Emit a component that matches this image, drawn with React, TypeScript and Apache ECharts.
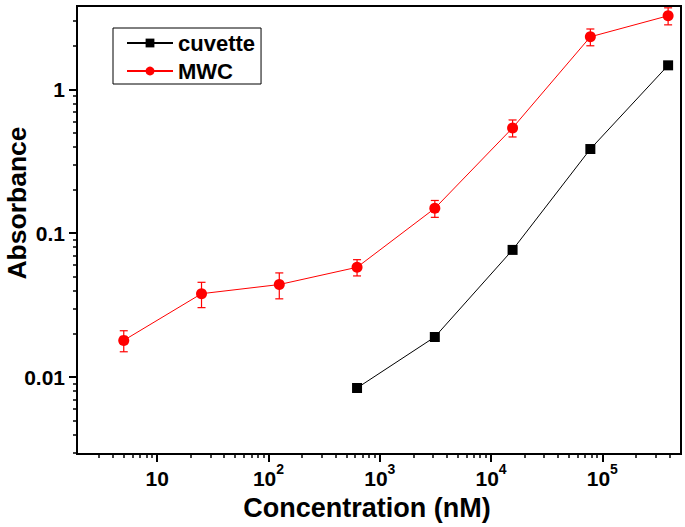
import { useEffect, useRef } from 'react';
import * as echarts from 'echarts';

const concentrations = [5, 25, 125, 625, 3125, 15625, 78125, 390625];
const mwcValues = [0.018, 0.038, 0.044, 0.058, 0.149, 0.54, 2.32, 3.25];
const mwcErrors = [0.003, 0.0076, 0.009, 0.0075, 0.02, 0.073, 0.31, 0.44];
const cuvetteConcentrations = [625, 3125, 15625, 78125, 390625];
const cuvetteValues = [0.0084, 0.019, 0.0766, 0.385, 1.47];

const xMajorTicks = [10, 100, 1000, 10000, 100000];
const xTickExponents = ['', '2', '3', '4', '5'];
const xMinorTicks = [
  3, 4, 5, 6, 7, 8, 9,
  20, 30, 40, 50, 60, 70, 80, 90,
  200, 300, 400, 500, 600, 700, 800, 900,
  2000, 3000, 4000, 5000, 6000, 7000, 8000, 9000,
  20000, 30000, 40000, 50000, 60000, 70000, 80000, 90000,
  200000, 300000, 400000,
];
const yMajorTicks = [0.01, 0.1, 1];
const yTickLabels = ['0.01', '0.1', '1'];
const yMinorTicks = [
  0.003, 0.004, 0.005, 0.006, 0.007, 0.008, 0.009,
  0.02, 0.03, 0.04, 0.05, 0.06, 0.07, 0.08, 0.09,
  0.2, 0.3, 0.4, 0.5, 0.6, 0.7, 0.8, 0.9,
  2, 3,
];

const X_MIN = 1.9;
const X_MAX = 5.1e5;
const Y_MIN = 0.00292;
const Y_MAX = 3.8;

const FONT = '"Liberation Sans", Arial, Helvetica, sans-serif';
const RED = '#ff0000';

function findIndex(arr: number[], v: number) {
  return arr.findIndex((t) => Math.abs(t - v) / t < 1e-6);
}

export default function App() {
  const ref = useRef<HTMLDivElement>(null);

  useEffect(() => {
    if (!ref.current) return;
    const chart = echarts.init(ref.current, undefined, { renderer: 'svg' });

    const errorData = concentrations.map((c, i) => [c, mwcValues[i] - mwcErrors[i], mwcValues[i] + mwcErrors[i]]);

    const option: any = {
      animation: false,
      backgroundColor: '#ffffff',
      grid: {
        left: 77,
        right: 4,
        top: 6,
        bottom: 73,
        containLabel: false,
        outerBoundsMode: 'none',
        show: true,
        borderColor: '#000',
        borderWidth: 2,
        backgroundColor: 'transparent',
      },
      legend: {
        orient: 'vertical',
        left: 113,
        top: 28,
        borderColor: '#000',
        borderWidth: 1,
        borderRadius: 0,
        padding: [4, 6, 2, 13],
        itemWidth: 46,
        itemHeight: 11,
        itemGap: 6,
        data: ['cuvette', 'MWC'],
        textStyle: { fontSize: 22, fontWeight: 'bold', fontFamily: FONT, color: '#000' },
      },
      xAxis: [
        {
          type: 'log',
          logBase: 10,
          min: X_MIN,
          max: X_MAX,
          position: 'bottom',
          name: 'Concentration (nM)',
          nameLocation: 'middle',
          nameGap: 40,
          nameTextStyle: { fontSize: 27, fontWeight: 'bold', fontFamily: FONT, color: '#000', padding: [0, 24, 0, 0] },
          axisLine: { show: true, lineStyle: { color: '#000', width: 2 } },
          axisTick: { show: true, length: 8, inside: false, customValues: xMajorTicks, lineStyle: { color: '#000', width: 2 } },
          splitLine: { show: false },
          axisLabel: {
            customValues: xMajorTicks,
            margin: 8,
            formatter: (v: number) => {
              const i = findIndex(xMajorTicks, v);
              if (i < 0) return '';
              const e = xTickExponents[i];
              return e ? `{b|10}{s|${e}}` : '{b|10}';
            },
            rich: {
              b: { fontSize: 21, fontWeight: 'bold', fontFamily: FONT, color: '#000', padding: [6, 0, 0, 0] },
              s: { fontSize: 14, fontWeight: 'bold', fontFamily: FONT, color: '#000', verticalAlign: 'top' },
            },
          },
        },
        {
          type: 'log',
          logBase: 10,
          min: X_MIN,
          max: X_MAX,
          position: 'bottom',
          axisLine: { show: false },
          axisLabel: { show: false },
          splitLine: { show: false },
          axisTick: { show: true, length: 4, inside: false, customValues: xMinorTicks, lineStyle: { color: '#000', width: 1.5 } },
        },
      ],
      yAxis: [
        {
          type: 'log',
          logBase: 10,
          min: Y_MIN,
          max: Y_MAX,
          position: 'left',
          name: 'Absorbance',
          nameLocation: 'middle',
          nameGap: 47,
          nameMoveOverlap: false,
          nameTextStyle: { fontSize: 26.5, fontWeight: 'bold', fontFamily: FONT, color: '#000', padding: [0, 0, 0, 54] },
          axisLine: { show: true, lineStyle: { color: '#000', width: 2 } },
          axisTick: { show: true, length: 8, inside: false, customValues: yMajorTicks, lineStyle: { color: '#000', width: 2 } },
          splitLine: { show: false },
          axisLabel: {
            customValues: yMajorTicks,
            margin: 12,
            fontSize: 21,
            fontWeight: 'bold',
            fontFamily: FONT,
            color: '#000',
            formatter: (v: number) => {
              const i = findIndex(yMajorTicks, v);
              return i < 0 ? '' : yTickLabels[i];
            },
          },
        },
        {
          type: 'log',
          logBase: 10,
          min: Y_MIN,
          max: Y_MAX,
          position: 'left',
          axisLine: { show: false },
          axisLabel: { show: false },
          splitLine: { show: false },
          axisTick: { show: true, length: 4, inside: false, customValues: yMinorTicks, lineStyle: { color: '#000', width: 1.5 } },
        },
      ],
      series: [
        {
          name: 'MWC error',
          type: 'custom',
          xAxisIndex: 0,
          yAxisIndex: 0,
          data: errorData,
          encode: { x: 0, y: [1, 2] },
          z: 1,
          renderItem: (_params: any, api: any) => {
            const x = api.value(0);
            const lo = api.coord([x, api.value(1)]);
            const hi = api.coord([x, api.value(2)]);
            const w = 4;
            const style = { stroke: RED, lineWidth: 1.2 };
            return {
              type: 'group',
              children: [
                { type: 'line', shape: { x1: lo[0], y1: lo[1], x2: hi[0], y2: hi[1] }, style },
                { type: 'line', shape: { x1: lo[0] - w, y1: lo[1], x2: lo[0] + w, y2: lo[1] }, style },
                { type: 'line', shape: { x1: hi[0] - w, y1: hi[1], x2: hi[0] + w, y2: hi[1] }, style },
              ],
            };
          },
        },
        {
          name: 'cuvette',
          type: 'line',
          xAxisIndex: 0,
          yAxisIndex: 0,
          data: cuvetteConcentrations.map((c, i) => [c, cuvetteValues[i]]),
          symbol: 'rect',
          symbolSize: 10,
          lineStyle: { color: '#000', width: 1 },
          itemStyle: { color: '#000' },
          z: 3,
        },
        {
          name: 'MWC',
          type: 'line',
          xAxisIndex: 0,
          yAxisIndex: 0,
          data: concentrations.map((c, i) => [c, mwcValues[i]]),
          symbol: 'circle',
          symbolSize: 11,
          lineStyle: { color: RED, width: 1 },
          itemStyle: { color: RED },
          z: 3,
        },
      ],
    };

    chart.setOption(option);
    return () => chart.dispose();
  }, []);

  return <div ref={ref} style={{ position: 'absolute', left: 0, top: 0, width: 685, height: 527 }} />;
}
